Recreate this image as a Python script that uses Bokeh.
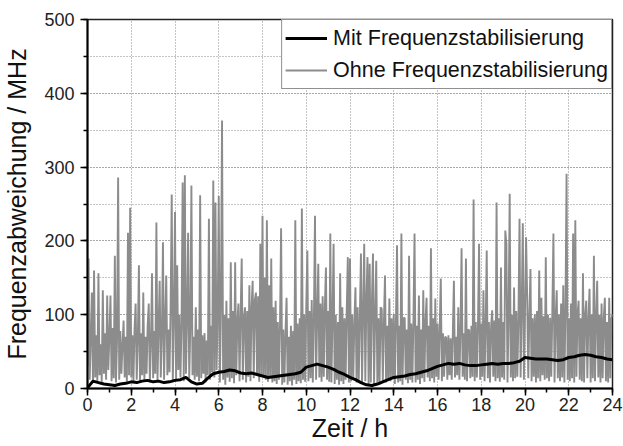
from bokeh.plotting import figure
from bokeh.models import Range1d, SingleIntervalTicker, Legend, LegendItem
from bokeh.embed import file_html
from bokeh.resources import INLINE

# ---------------- data ----------------
# "Ohne Frequenzstabilisierung": samples every 0.05 h (20 per hour)
ohne_step_h = 0.05
ohne_h00 = [30,176,12,68,130,8,160,15,72,10,156,18,60,9,133,20,75,12,126,25]
ohne_h01 = [70,126,10,82,14,180,8,65,286,12,78,20,60,92,15,70,9,211,18,245]
ohne_h02 = [15,72,10,80,115,12,66,167,9,75,18,130,11,70,20,85,115,8,62,156]
ohne_h03 = [14,78,20,225,10,85,146,15,72,198,12,90,153,18,80,22,110,263,9,95]
ohne_h04 = [239,12,167,25,100,15,88,279,10,289,20,95,211,14,82,275,18,70,12,110]
ohne_h05 = [16,80,10,262,14,72,20,75,8,65,18,230,12,85,22,282,15,252,25,95]
ohne_h06 = [261,8,110,363,12,100,5,119,15,95,9,171,14,105,7,171,18,90,115,10]
ohne_h07 = [100,176,12,95,110,8,105,16,140,10,110,146,14,120,130,20,125,9,196,18]
ohne_h08 = [234,15,150,12,228,9,140,14,176,8,110,10,119,6,90,12,85,217,5,80]
ohne_h09 = [8,75,123,5,70,10,85,4,78,12,228,6,88,10,95,7,244,12,100,9]
ohne_h10 = [110,187,10,105,14,120,8,95,234,12,100,169,15,115,9,125,16,110,164,12]
ohne_h11 = [105,9,210,8,95,196,6,100,12,90,5,156,10,110,6,95,12,105,178,8]
ohne_h12 = [176,10,100,15,90,137,8,110,12,95,183,6,105,196,10,120,178,5,169,8]
ohne_h13 = [115,183,6,100,173,8,95,5,110,108,10,90,153,8,85,12,122,10,95,15]
ohne_h14 = [101,6,90,194,8,85,10,210,5,95,96,12,80,7,180,12,88,8,92,210]
ohne_h15 = [8,85,12,126,6,80,14,133,9,90,123,15,85,10,190,14,95,8,122,16]
ohne_h16 = [88,12,80,149,10,75,16,70,69,12,72,18,68,12,75,146,15,70,18,110]
ohne_h17 = [12,78,190,16,75,12,176,10,80,79,14,85,16,256,10,90,15,85,196,12]
ohne_h18 = [88,16,133,10,82,187,14,90,8,85,106,16,92,10,252,14,95,9,164,15]
ohne_h19 = [90,12,214,196,8,95,264,15,100,10,137,14,105,16,95,230,15,110,224,12]
ohne_h20 = [105,205,123,14,100,162,10,95,16,100,8,105,14,160,10,123,18,98,12,178]
ohne_h21 = [14,100,10,96,16,105,210,8,95,133,14,100,10,115,15,140,8,105,291,12]
ohne_h22 = [95,10,115,14,210,8,228,16,100,119,12,95,10,156,8,100,119,14,95,135]
ohne_h23 = [8,100,14,180,10,95,146,15,100,8,115,14,95,123,10,90,8,123,14,95]
ohne_h24 = [101]

# "Mit Frequenzstabilisierung": samples every 0.25 h
mit_step_h = 0.25
mit_mhz = [1,10,8,6, 5,4,6,7, 9,8,10,11, 9,10,8,9, 11,12,15,9,
           6,7,14,20, 22,23,25,24, 21,20,21,19, 17,15,16,17, 18,19,20,22,
           29,31,33,31, 29,26,22,19, 15,12,8,5, 4,6,9,12, 15,16,17,19,
           20,22,24,27, 30,32,34,33, 34,32,31,31, 32,33,34,33, 34,34,35,37,
           42,41,40,40, 40,39,38,39, 42,43,45,46, 45,43,42,40, 39]

x_ticks_interval = 2
y_ticks_interval = 100

# ---------------- build ----------------
ohne_mhz = (ohne_h00 + ohne_h01 + ohne_h02 + ohne_h03 + ohne_h04 + ohne_h05 +
            ohne_h06 + ohne_h07 + ohne_h08 + ohne_h09 + ohne_h10 + ohne_h11 +
            ohne_h12 + ohne_h13 + ohne_h14 + ohne_h15 + ohne_h16 + ohne_h17 +
            ohne_h18 + ohne_h19 + ohne_h20 + ohne_h21 + ohne_h22 + ohne_h23 + ohne_h24)
ohne_t = [i * ohne_step_h for i in range(len(ohne_mhz))]
mit_t = [i * mit_step_h for i in range(len(mit_mhz))]

FONT = "Liberation Sans"

p = figure(width=623, height=446, output_backend="svg", toolbar_location=None,
           x_range=Range1d(0, 24), y_range=Range1d(0, 500),
           min_border_left=85, min_border_right=11, min_border_top=19, min_border_bottom=58)
p.background_fill_color = "white"
p.border_fill_color = "white"
p.outline_line_color = "#222222"
p.outline_line_width = 1.5

p.xaxis.ticker = SingleIntervalTicker(interval=x_ticks_interval, num_minor_ticks=2)
p.yaxis.ticker = SingleIntervalTicker(interval=y_ticks_interval, num_minor_ticks=2)

for ax in (p.xaxis[0], p.yaxis[0]):
    ax.axis_line_color = "black"
    ax.axis_line_width = 2
    ax.major_tick_line_color = "black"
    ax.major_tick_line_width = 1.5
    ax.minor_tick_line_color = "black"
    ax.minor_tick_line_width = 1.5
    ax.major_tick_in = 0
    ax.major_tick_out = 7
    ax.minor_tick_in = 0
    ax.minor_tick_out = 4
    ax.major_label_text_font = FONT
    ax.major_label_text_font_size = "18px"
    ax.major_label_text_color = "#222222"
    ax.axis_label_text_font = FONT
    ax.axis_label_text_font_style = "normal"
    ax.axis_label_text_font_size = "25px"
    ax.axis_label_text_color = "#111111"

p.xaxis.axis_label = "Zeit / h"
p.yaxis.axis_label = "Frequenzabweichung / MHz"
p.xaxis.major_label_standoff = 2
p.yaxis.major_label_standoff = 6
p.xaxis.axis_label_standoff = 0
p.yaxis.axis_label_standoff = 10

p.xgrid.grid_line_color = "#8a8a8a"
p.xgrid.grid_line_dash = "1 2"
p.xgrid.grid_line_width = 1
p.ygrid.grid_line_color = "#8a8a8a"
p.ygrid.grid_line_dash = "1 2"
p.ygrid.grid_line_width = 1
p.ygrid.minor_grid_line_color = "#8a8a8a"
p.ygrid.minor_grid_line_dash = "1 2"
p.ygrid.minor_grid_line_width = 1

r_ohne = p.line(ohne_t, ohne_mhz, line_color="#8c8c8c", line_width=1.9)
r_mit = p.line(mit_t, mit_mhz, line_color="black", line_width=3)

legend = Legend(items=[LegendItem(label="Mit Frequenzstabilisierung", renderers=[r_mit]),
                       LegendItem(label="Ohne Frequenzstabilisierung", renderers=[r_ohne])],
                location="top_right")
legend.margin = 0
legend.padding = 3
legend.spacing = 2
legend.label_height = 30
legend.glyph_height = 30
legend.glyph_width = 42
legend.label_standoff = 6
legend.label_text_font = FONT
legend.label_text_font_size = "21.5px"
legend.label_text_color = "#111111"
legend.border_line_color = "#222222"
legend.border_line_width = 1.5
legend.background_fill_color = "white"
legend.background_fill_alpha = 1
p.add_layout(legend)

open("out.html", "w").write(file_html(p, INLINE))
